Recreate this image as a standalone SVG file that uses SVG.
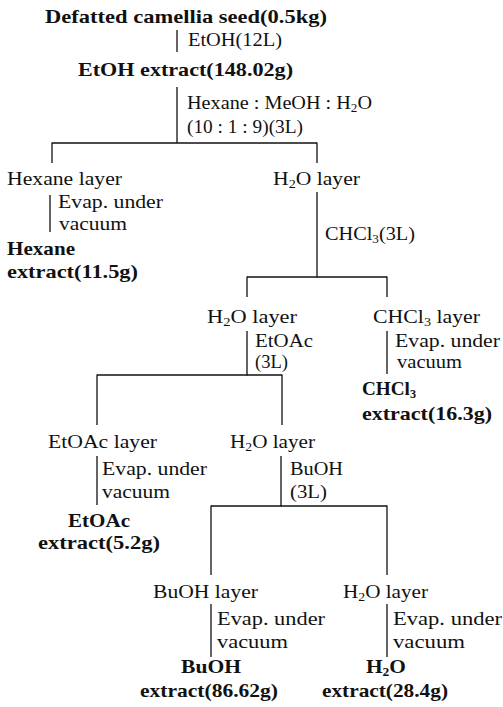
<svg xmlns="http://www.w3.org/2000/svg" width="503" height="707" viewBox="0 0 503 707">
<style>
text{font-family:"Liberation Serif","Times New Roman",serif;fill:#111;}
.r{font-size:18.5px;}
.b{font-size:19px;font-weight:bold;}
.s{font-size:12px;}
.c line{stroke:#111;stroke-width:1.3;}
</style>
<rect width="503" height="707" fill="#fff"/>
<g class="c" id="connectors">
<line x1="177" y1="30" x2="177" y2="52"/>
<line x1="177" y1="87" x2="177" y2="143"/>
<line x1="52" y1="143" x2="317" y2="143"/>
<line x1="52" y1="142.5" x2="52" y2="163"/>
<line x1="317" y1="142.5" x2="317" y2="163"/>
<line x1="50" y1="195" x2="50" y2="232"/>
<line x1="317" y1="192" x2="317" y2="277.5"/>
<line x1="247" y1="277" x2="387" y2="277"/>
<line x1="247" y1="276.5" x2="247" y2="297"/>
<line x1="387" y1="276.5" x2="387" y2="297"/>
<line x1="247" y1="331" x2="247" y2="375.5"/>
<line x1="387" y1="331" x2="387" y2="374"/>
<line x1="97" y1="375" x2="282" y2="375"/>
<line x1="97" y1="374.5" x2="97" y2="425"/>
<line x1="282" y1="374.5" x2="282" y2="425"/>
<line x1="97" y1="456" x2="97" y2="505"/>
<line x1="281" y1="456" x2="281" y2="506.5"/>
<line x1="211" y1="506" x2="387" y2="506"/>
<line x1="211" y1="505.5" x2="211" y2="575"/>
<line x1="387" y1="505.5" x2="387" y2="575"/>
<line x1="211" y1="604" x2="211" y2="657"/>
<line x1="387" y1="604" x2="387" y2="657"/>
</g>
<g id="seed"><text class="b" x="45" y="23" textLength="282" lengthAdjust="spacingAndGlyphs">Defatted camellia seed(0.5kg)</text></g>
<g id="lbl-etoh"><text class="r" x="188" y="46" textLength="94" lengthAdjust="spacingAndGlyphs">EtOH(12L)</text></g>
<g id="etoh-extract"><text class="b" x="78" y="76" textLength="215" lengthAdjust="spacingAndGlyphs">EtOH extract(148.02g)</text></g>
<g id="lbl-solvent"><text class="r" x="187" y="109" textLength="185" lengthAdjust="spacingAndGlyphs">Hexane : MeOH : H<tspan class="s" dy="3">2</tspan><tspan dy="-3">O</tspan></text>
<text class="r" x="187" y="133" textLength="116" lengthAdjust="spacingAndGlyphs">(10 : 1 : 9)(3L)</text></g>
<g id="hexane-layer"><text class="r" x="7" y="185" textLength="115" lengthAdjust="spacingAndGlyphs">Hexane layer</text></g>
<g id="h2o-layer-1"><text class="r" x="273" y="185" textLength="87" lengthAdjust="spacingAndGlyphs">H<tspan class="s" dy="3">2</tspan><tspan dy="-3">O layer</tspan></text></g>
<g id="lbl-evap-1"><text class="r" x="58" y="208" textLength="105" lengthAdjust="spacingAndGlyphs">Evap. under</text>
<text class="r" x="59" y="230" textLength="68" lengthAdjust="spacingAndGlyphs">vacuum</text></g>
<g id="hexane-extract"><text class="b" x="7" y="255" textLength="68" lengthAdjust="spacingAndGlyphs">Hexane</text>
<text class="b" x="7" y="278" textLength="131" lengthAdjust="spacingAndGlyphs">extract(11.5g)</text></g>
<g id="lbl-chcl3"><text class="r" x="325" y="240" textLength="90" lengthAdjust="spacingAndGlyphs">CHCl<tspan class="s" dy="3">3</tspan><tspan dy="-3">(3L)</tspan></text></g>
<g id="h2o-layer-2"><text class="r" x="207" y="323" textLength="90" lengthAdjust="spacingAndGlyphs">H<tspan class="s" dy="3">2</tspan><tspan dy="-3">O layer</tspan></text></g>
<g id="chcl3-layer"><text class="r" x="373" y="323" textLength="107" lengthAdjust="spacingAndGlyphs">CHCl<tspan class="s" dy="3">3</tspan><tspan dy="-3"> layer</tspan></text></g>
<g id="lbl-etoac"><text class="r" x="255" y="347" textLength="58" lengthAdjust="spacingAndGlyphs">EtOAc</text>
<text class="r" x="255" y="368" textLength="33" lengthAdjust="spacingAndGlyphs">(3L)</text></g>
<g id="lbl-evap-2"><text class="r" x="395" y="347" textLength="105" lengthAdjust="spacingAndGlyphs">Evap. under</text>
<text class="r" x="397" y="368" textLength="65" lengthAdjust="spacingAndGlyphs">vacuum</text></g>
<g id="chcl3-extract"><text class="b" x="362" y="395" textLength="54" lengthAdjust="spacingAndGlyphs">CHCl<tspan class="s" dy="3">3</tspan></text>
<text class="b" x="362" y="420" textLength="130" lengthAdjust="spacingAndGlyphs">extract(16.3g)</text></g>
<g id="etoac-layer"><text class="r" x="48" y="448" textLength="109" lengthAdjust="spacingAndGlyphs">EtOAc layer</text></g>
<g id="h2o-layer-3"><text class="r" x="230" y="448" textLength="85" lengthAdjust="spacingAndGlyphs">H<tspan class="s" dy="3">2</tspan><tspan dy="-3">O layer</tspan></text></g>
<g id="lbl-evap-3"><text class="r" x="102" y="475" textLength="105" lengthAdjust="spacingAndGlyphs">Evap. under</text>
<text class="r" x="102" y="498" textLength="68" lengthAdjust="spacingAndGlyphs">vacuum</text></g>
<g id="lbl-buoh"><text class="r" x="290" y="475" textLength="53" lengthAdjust="spacingAndGlyphs">BuOH</text>
<text class="r" x="290" y="498" textLength="37" lengthAdjust="spacingAndGlyphs">(3L)</text></g>
<g id="etoac-extract"><text class="b" x="68" y="527" textLength="62" lengthAdjust="spacingAndGlyphs">EtOAc</text>
<text class="b" x="38" y="549" textLength="122" lengthAdjust="spacingAndGlyphs">extract(5.2g)</text></g>
<g id="buoh-layer"><text class="r" x="153" y="598" textLength="105" lengthAdjust="spacingAndGlyphs">BuOH layer</text></g>
<g id="h2o-layer-4"><text class="r" x="343" y="598" textLength="85" lengthAdjust="spacingAndGlyphs">H<tspan class="s" dy="3">2</tspan><tspan dy="-3">O layer</tspan></text></g>
<g id="lbl-evap-4"><text class="r" x="217" y="625" textLength="108" lengthAdjust="spacingAndGlyphs">Evap. under</text>
<text class="r" x="217" y="648" textLength="71" lengthAdjust="spacingAndGlyphs">vacuum</text></g>
<g id="lbl-evap-5"><text class="r" x="393" y="625" textLength="109" lengthAdjust="spacingAndGlyphs">Evap. under</text>
<text class="r" x="393" y="648" textLength="72" lengthAdjust="spacingAndGlyphs">vacuum</text></g>
<g id="buoh-extract"><text class="b" x="181" y="673" textLength="60" lengthAdjust="spacingAndGlyphs">BuOH</text>
<text class="b" x="140" y="697" textLength="138" lengthAdjust="spacingAndGlyphs">extract(86.62g)</text></g>
<g id="h2o-extract"><text class="b" x="366" y="673" textLength="40" lengthAdjust="spacingAndGlyphs">H<tspan class="s" dy="3">2</tspan><tspan dy="-3">O</tspan></text>
<text class="b" x="322" y="697" textLength="126" lengthAdjust="spacingAndGlyphs">extract(28.4g)</text></g>
</svg>
